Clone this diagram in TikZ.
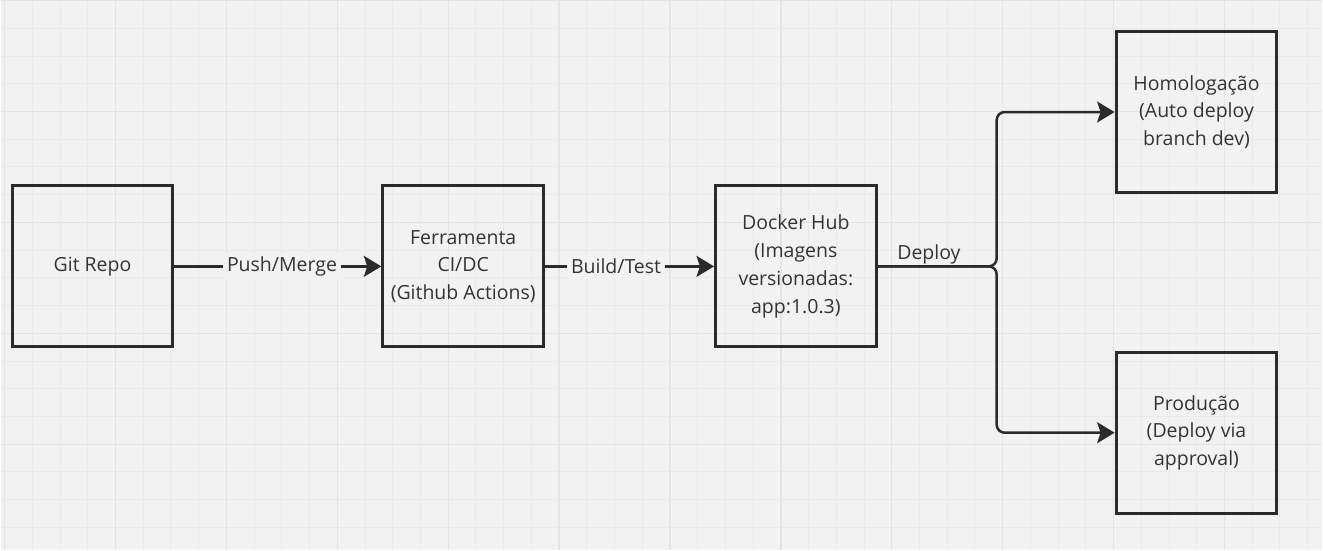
\documentclass[tikz,border=0pt]{standalone}
\usepackage{fontspec}
\setmainfont{Open Sans}
\usetikzlibrary{arrows.meta}
\definecolor{bgc}{HTML}{F2F2F2}
\definecolor{minorc}{HTML}{EAEAEA}
\definecolor{majorc}{HTML}{E4E4E4}
\definecolor{inkc}{HTML}{2B2B2B}
\definecolor{txtc}{HTML}{333333}
\begin{document}
\begin{tikzpicture}[x=0.02cm,y=-0.02cm,
  >={Stealth[length=0.35cm,width=0.42cm,inset=0.07cm]},
  box/.style={draw=inkc,line width=0.06cm,minimum width=3.22cm,minimum height=3.22cm,
    align=center,text=txtc,inner sep=0pt,font=\fontsize{11.1pt}{15.8pt}\selectfont},
  link/.style={->,draw=inkc,line width=0.05cm},
  lbl/.style={fill=bgc,text=txtc,inner sep=0.08cm,font=\fontsize{11.1pt}{13pt}\selectfont}]
% background and grid
\fill[bgc] (0,0) rectangle (1323,550);
\foreach \k in {-4,...,43}
  \draw[minorc,line width=0.02cm] ({115+27.75*\k},0) -- ({115+27.75*\k},550);
\foreach \k in {0,...,19}
  \draw[minorc,line width=0.02cm] (0,{27.75*\k}) -- (1323,{27.75*\k});
\foreach \k in {-1,...,10}
  \draw[majorc,line width=0.025cm] ({115+111*\k},0) -- ({115+111*\k},550);
\foreach \k in {0,...,4}
  \draw[majorc,line width=0.025cm] (0,{111*\k}) -- (1323,{111*\k});
% boxes
\node[box] (git) at (92,266) {Git Repo};
\node[box] (ci) at (463,266) {Ferramenta\\CI/DC\\(Github Actions)};
\node[box] (hub) at (796,266) {Docker Hub\\(Imagens\\versionadas:\\app:1.0.3)};
\node[box] (homol) at (1197,111.5) {Homologação\\(Auto deploy\\branch dev)};
\node[box] (prod) at (1197,432.5) {Produção\\(Deploy via\\approval)};
\coordinate (fork) at (997,266);
% connectors
\draw[link] (git) -- node[lbl,pos=.52] {Push/Merge} (ci);
\draw[link] (ci) -- node[lbl,pos=.42] {Build/Test} (hub);
\draw[link,rounded corners=0.16cm] (hub.east) -- node[above,text=txtc,pos=.43,inner sep=0.02cm,
  font=\fontsize{11.1pt}{13pt}\selectfont] {Deploy} (fork) |- (homol.west);
\draw[link,rounded corners=0.16cm] (hub.east) -- (fork) |- (prod.west);
\end{tikzpicture}
\end{document}
